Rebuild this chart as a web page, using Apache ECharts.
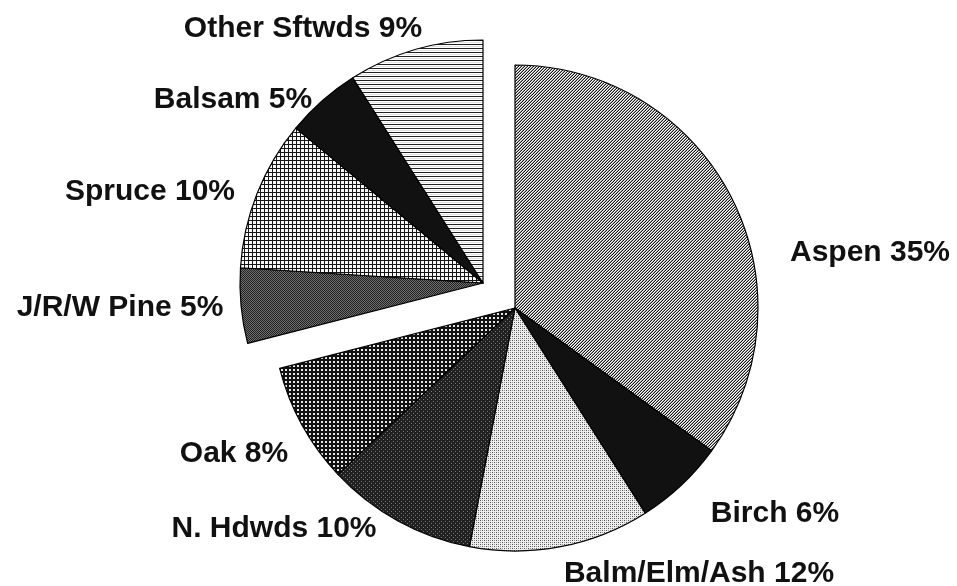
<!DOCTYPE html>
<html>
<head>
<meta charset="utf-8">
<script src="https://cdn.jsdelivr.net/npm/echarts@6/dist/echarts.min.js"></script>
<style>
  html, body { margin: 0; padding: 0; background: #fff; }
  #chart { width: 957px; height: 586px; }
</style>
</head>
<body>
<div id="chart"></div>
<script>
  // hardwoods (main pie) and softwoods (pulled-out wedge), clockwise from 12 o'clock
  var hardNames = ['Aspen', 'Birch', 'Balm/Elm/Ash', 'N. Hdwds', 'Oak'];
  var hardValues = [35, 6, 12, 10, 8];
  var softNames = ['J/R/W Pine', 'Spruce', 'Balsam', 'Other Sftwds'];
  var softValues = [5, 10, 5, 9];

  // where each label sits (text centre)
  var labelPos = {
    'Aspen': [870, 253],
    'Birch': [775, 514],
    'Balm/Elm/Ash': [699, 574],
    'N. Hdwds': [274, 529],
    'Oak': [234, 454],
    'J/R/W Pine': [120, 308],
    'Spruce': [150, 192],
    'Balsam': [233, 100],
    'Other Sftwds': [303, 29]
  };

  // small pixel tiles for the hatch fills
  function tile(w, h, fn) {
    var c = document.createElement('canvas')
    c.width = w
    c.height = h
    var ctx = c.getContext('2d')
    for (var y = 0; y < h; y++) {
      for (var x = 0; x < w; x++) {
        ctx.fillStyle = fn(x, y)
        ctx.fillRect(x, y, 1, 1)
      }
    }
    return { image: c, repeat: 'repeat' }
  }

  var fills = {
    'Aspen': tile(3, 3, function (x, y) {
      var k = (x + y) % 3
      return k === 2 ? '#1a1a1a' : (k === 1 ? '#a0a0a0' : '#ffffff')
    }),
    'Birch': '#111111',
    'Balm/Elm/Ash': tile(4, 4, function (x, y) {
      if ((x === 0 && y === 0) || (x === 2 && y === 2)) return '#505050'
      if ((x === 2 && y === 0) || (x === 0 && y === 2)) return '#9a9a9a'
      return '#eeeeee'
    }),
    'N. Hdwds': tile(4, 4, function (x, y) {
      if ((x === 1 && y === 1) || (x === 3 && y === 3)) return '#7a7a7a'
      return '#202020'
    }),
    'Oak': tile(4, 4, function (x, y) {
      if ((x === 1 || x === 2) && (y === 1 || y === 2)) return '#e6e6e6'
      return '#111111'
    }),
    'J/R/W Pine': tile(2, 2, function (x, y) {
      return (x + y) % 2 === 0 ? '#222222' : '#6e6e6e'
    }),
    'Spruce': tile(4, 4, function (x, y) {
      if (x === 0 || y === 0) return '#151515'
      return '#f8f8f8'
    }),
    'Balsam': '#111111',
    'Other Sftwds': tile(1, 4, function (x, y) {
      if (y === 0) return '#222222'
      if (y === 2) return '#e2e2e2'
      return '#ffffff'
    })
  };

  function sum(arr) {
    return arr.reduce(function (a, b) { return a + b }, 0)
  }

  function slices(names, values) {
    return names.map(function (n, i) {
      return { name: n, value: values[i], itemStyle: { color: fills[n] } }
    })
  }

  var blankStyle = {
    name: '',
    itemStyle: { color: 'transparent', borderWidth: 0 },
    label: { show: false },
    labelLine: { show: false },
    emphasis: { disabled: true },
    tooltip: { show: false }
  };

  var hardData = slices(hardNames, hardValues)
  hardData.push(Object.assign({ value: sum(softValues) }, blankStyle))

  var softData = [Object.assign({ value: sum(hardValues) }, blankStyle)]
  softData = softData.concat(slices(softNames, softValues))

  var labelOpt = {
    show: true,
    position: 'outside',
    formatter: function (p) { return p.name + ' ' + p.value + '%' },
    fontFamily: 'Liberation Sans, Arial, sans-serif',
    fontWeight: 'bold',
    fontSize: 30,
    color: '#111'
  };

  function layout(params) {
    var name = params.text ? params.text.replace(/ \d+%$/, '') : ''
    var pos = labelPos[name]
    if (!pos) return {}
    return { x: pos[0], y: pos[1], align: 'center', verticalAlign: 'middle' }
  }

  var chart = echarts.init(document.getElementById('chart'), null, { renderer: 'canvas' })

  var option = {
    backgroundColor: '#ffffff',
    animation: false,
    series: [
      {
        type: 'pie',
        center: [515, 308],
        radius: [0, 243],
        startAngle: 90,
        clockwise: true,
        avoidLabelOverlap: false,
        itemStyle: { borderColor: '#000', borderWidth: 1.2 },
        label: labelOpt,
        labelLine: { show: false },
        labelLayout: layout,
        emphasis: { disabled: true },
        data: hardData
      },
      {
        type: 'pie',
        center: [483, 283],
        radius: [0, 243],
        startAngle: 90,
        clockwise: true,
        avoidLabelOverlap: false,
        itemStyle: { borderColor: '#000', borderWidth: 1.2 },
        label: labelOpt,
        labelLine: { show: false },
        labelLayout: layout,
        emphasis: { disabled: true },
        data: softData
      }
    ]
  };

  chart.setOption(option)
</script>
</body>
</html>
